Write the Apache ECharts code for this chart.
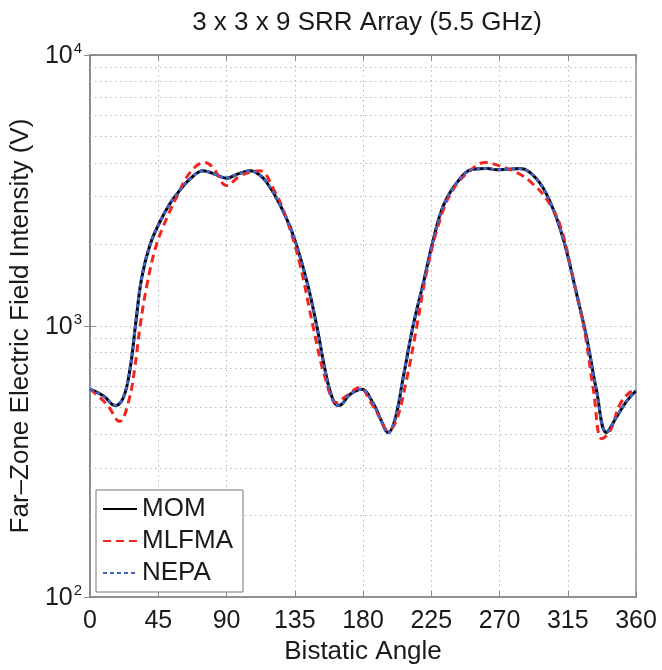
<!DOCTYPE html>
<html>
<head>
<meta charset="utf-8">
<script src="https://cdn.jsdelivr.net/npm/echarts@6/dist/echarts.min.js"></script>
<style>
  html, body { margin: 0; padding: 0; background: #fff; }
  #chart { width: 662px; height: 670px; }
</style>
</head>
<body>
<div id="chart"></div>
<script>
// x axis ticks (bistatic angle)
var xTicks = [0, 45, 90, 135, 180, 225, 270, 315, 360];
// y axis decades, and the minor grid values in between
var yDecades = [100, 1000, 10000];
var yMinor = [200, 300, 400, 500, 600, 700, 800, 900, 2000, 3000, 4000, 5000, 6000, 7000, 8000, 9000];

// MOM (black solid)
var momAngles = [0, 9, 16.5, 22, 26.5, 30, 34, 39.5, 46, 52.5, 59, 66, 74.5, 82, 90, 98, 105.5, 111, 116.5, 125,
  134, 143, 149.5, 156, 160.5, 164, 171.5, 179, 187, 192, 196.5, 201, 206.5, 213, 220, 226.5, 233, 242, 252.5, 262,
  268, 275, 283.5, 294.5, 303.5, 312, 321, 327.5, 334, 340.5, 347, 354, 360];
var momValues = [585, 552, 509, 545, 702, 1010, 1500, 1990, 2420, 2820, 3160, 3490, 3740, 3640, 3510, 3650, 3740, 3640, 3390, 2820,
  2160, 1460, 1000, 646, 530, 509, 560, 585, 515, 448, 405, 450, 646, 1000, 1460, 2100, 2780, 3390, 3790, 3810,
  3775, 3790, 3810, 3485, 2860, 2100, 1300, 903, 577, 405, 460, 530, 577];

// MLFMA (red dashed)
var mlfmaAngles = [0, 11, 19.5, 25.5, 29.5, 33, 37.5, 43, 48.5, 57, 66, 75.5, 81, 90, 99, 106, 112, 121, 129.5, 138.5,
  147, 155, 162.5, 169, 178, 184.5, 191, 196.5, 202, 209, 215.5, 222, 231, 239.5, 250.5, 260.5, 270, 283.5, 292, 301,
  310, 318.5, 325.5, 332, 337.5, 343, 349.5, 356, 360];
var mlfmaValues = [585, 515, 445, 530, 702, 1000, 1416, 1930, 2350, 2985, 3690, 4010, 3845, 3300, 3584, 3700, 3740, 3200, 2490, 1680,
  1000, 646, 522, 552, 593, 530, 460, 411, 448, 646, 1000, 1585, 2490, 3200, 3740, 4010, 3900, 3632, 3342, 2944,
  2350, 1500, 1000, 577, 384, 411, 515, 570, 577];

// NEPA (blue dotted), same angles as MOM
var nepaAngles = momAngles;
var nepaValues = [585, 550, 510, 547, 705, 1015, 1505, 1990, 2415, 2820, 3160, 3490, 3735, 3640, 3515, 3650, 3735, 3640, 3390, 2815,
  2160, 1455, 995, 644, 530, 510, 560, 584, 515, 447, 403, 452, 650, 1005, 1465, 2100, 2780, 3390, 3785, 3810,
  3775, 3790, 3805, 3480, 2855, 2095, 1300, 905, 578, 407, 460, 530, 576];

function pairs(xs, ys) {
  var out = [];
  for (var i = 0; i < xs.length; i++) out.push([xs[i], ys[i]]);
  return out;
}

var FONT = 'Liberation Sans';
var TXT = '#1a1a1a';
var GRIDC = '#b8b8b8';
var BOX = '#8a8a8a';

var myChart = echarts.init(document.getElementById('chart'), null, { renderer: 'canvas' });

var option = {
  backgroundColor: '#fff',
  animation: false,
  title: {
    text: '3 x 3 x 9 SRR Array (5.5 GHz)',
    left: 362,
    textAlign: 'center',
    top: 5,
    textStyle: { fontFamily: FONT, fontSize: 26, fontWeight: 'normal', color: TXT }
  },
  grid: { left: 90, top: 55, width: 546, height: 546, show: true, borderColor: BOX, borderWidth: 1.5 },
  legend: {
    data: ['MOM', 'MLFMA', 'NEPA'],
    orient: 'vertical',
    left: 96,
    top: 490,
    padding: [6, 10, 6, 6],
    itemWidth: 34,
    itemHeight: 14,
    itemGap: 6,
    itemStyle: { opacity: 0 },
    backgroundColor: '#fff',
    borderColor: '#777',
    borderWidth: 1,
    textStyle: { fontFamily: FONT, fontSize: 26, color: TXT }
  },
  xAxis: [{
    type: 'value',
    min: 0, max: 360, interval: 45,
    name: 'Bistatic Angle',
    nameLocation: 'middle',
    nameGap: 40,
    nameTextStyle: { fontFamily: FONT, fontSize: 26, color: TXT },
    axisLine: { show: true, lineStyle: { color: BOX, width: 1.5 } },
    axisTick: { inside: true, length: 6, lineStyle: { color: BOX } },
    axisLabel: {
      margin: 12, fontFamily: FONT, fontSize: 25, color: TXT,
      showMinLabel: true, showMaxLabel: true,
      formatter: function (v) { return xTicks.indexOf(v) >= 0 ? String(v) : ''; }
    },
    splitLine: { show: true, lineStyle: { color: GRIDC, width: 1, type: [1.5, 3.5] } }
  }, {
    type: 'value', position: 'top',
    min: 0, max: 360, interval: 45,
    axisLine: { show: true, lineStyle: { color: BOX, width: 1.5 } },
    axisTick: { inside: true, length: 6, lineStyle: { color: BOX } },
    axisLabel: { show: false },
    splitLine: { show: false }
  }],
  yAxis: [{
    type: 'log',
    logBase: 10,
    min: yDecades[0], max: yDecades[yDecades.length - 1],
    name: 'Far\u2013Zone Electric Field Intensity (V)',
    nameLocation: 'middle',
    nameGap: 49,
    nameTextStyle: { fontFamily: FONT, fontSize: 26, color: TXT },
    axisLine: { show: true, lineStyle: { color: BOX, width: 1.5 } },
    axisTick: { inside: true, length: 6, lineStyle: { color: BOX } },
    axisLabel: {
      margin: 8,
      formatter: function (v) {
        return '{b|10}{e|' + Math.round(Math.log10(v)) + '}';
      },
      rich: {
        b: { fontFamily: FONT, fontSize: 25, color: TXT, lineHeight: 28, verticalAlign: 'bottom' },
        e: { fontFamily: FONT, fontSize: 15, color: TXT, lineHeight: 28, verticalAlign: 'top', padding: [0, 0, 14, 1] }
      }
    },
    splitLine: { show: true, lineStyle: { color: GRIDC, width: 1, type: [1.5, 3.5] } }
  }, {
    type: 'log', position: 'right',
    logBase: 10,
    min: yDecades[0], max: yDecades[yDecades.length - 1],
    axisLine: { show: true, lineStyle: { color: BOX, width: 1.5 } },
    axisTick: { inside: true, length: 6, lineStyle: { color: BOX } },
    axisLabel: { show: false },
    splitLine: { show: false }
  }],
  series: [{
    // minor log grid lines only
    name: 'minorGrid',
    type: 'line',
    data: [],
    z: 1,
    silent: true,
    markLine: {
      silent: true,
      z: 1,
      symbol: 'none',
      label: { show: false },
      lineStyle: { color: GRIDC, width: 1, type: [1.5, 3.5] },
      emphasis: { disabled: true },
      data: yMinor.map(function (v) { return { yAxis: v }; })
    }
  }, {
    name: 'MOM',
    type: 'line',
    data: pairs(momAngles, momValues),
    symbol: 'none',
    smooth: 0.4,
    z: 3,
    lineStyle: { color: '#000', width: 3, type: 'solid' },
    itemStyle: { color: '#000' }
  }, {
    name: 'MLFMA',
    type: 'line',
    data: pairs(mlfmaAngles, mlfmaValues),
    symbol: 'none',
    smooth: 0.4,
    z: 4,
    lineStyle: { color: '#f2261e', width: 3, type: [8, 5] },
    itemStyle: { color: '#f2261e' }
  }, {
    name: 'NEPA',
    type: 'line',
    data: pairs(nepaAngles, nepaValues),
    symbol: 'none',
    smooth: 0.4,
    z: 5,
    lineStyle: { color: '#4262c8', width: 3, type: [4, 3] },
    itemStyle: { color: '#4262c8' }
  }]
};

myChart.setOption(option);
</script>
</body>
</html>
